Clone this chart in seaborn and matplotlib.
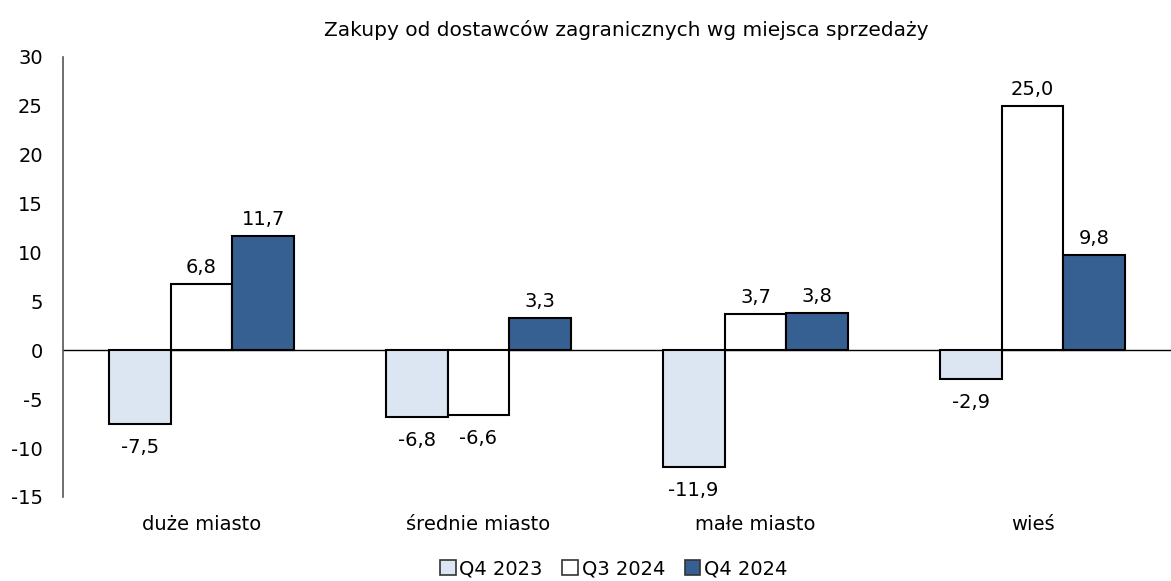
import matplotlib
matplotlib.use("Agg")
import matplotlib.pyplot as plt
import seaborn as sns
import pandas as pd

categories = ["duże miasto", "średnie miasto", "małe miasto", "wieś"]
series = ["Q4 2023", "Q3 2024", "Q4 2024"]
q4_2023 = [-7.5, -6.8, -11.9, -2.9]
q3_2024 = [6.8, -6.6, 3.7, 25.0]
q4_2024 = [11.7, 3.3, 3.8, 9.8]
yticks = [-15, -10, -5, 0, 5, 10, 15, 20, 25, 30]
title = "Zakupy od dostawców zagranicznych wg miejsca sprzedaży"

colors = ["#DCE6F2", "#FFFFFF", "#376092"]

rows = []
for s, vals in zip(series, [q4_2023, q3_2024, q4_2024]):
    for c, v in zip(categories, vals):
        rows.append({"cat": c, "series": s, "val": v})
df = pd.DataFrame(rows)

sns.set_theme(style="white")
plt.rcParams['font.family'] = ['DejaVu Sans']
plt.rcParams['text.color'] = 'black'
plt.rcParams['xtick.color'] = 'black'
plt.rcParams['ytick.color'] = 'black'

FS = 14

fig = plt.figure(figsize=(11.71, 5.81), dpi=100)
ax = fig.add_axes([63/1171, 1 - 497/581, (1171 - 63)/1171, (497 - 57)/581])

sns.barplot(data=df, x="cat", y="val", hue="series", order=categories,
            hue_order=series, palette=colors, saturation=1, edgecolor="black",
            linewidth=1.5, width=0.67, ax=ax, legend=True)

ax.set_ylim(-15, 30)
ax.set_xlim(-0.5, 3.5)
ax.set_yticks(yticks)
ax.set_yticklabels([str(t) for t in yticks], fontsize=FS)
ax.tick_params(axis="y", length=0, pad=14.5)
ax.set_xlabel("")
ax.set_ylabel("")
for side in ["top", "right", "bottom"]:
    ax.spines[side].set_visible(False)
ax.spines["left"].set_color("#555555")
ax.spines["left"].set_linewidth(1.2)
ax.axhline(0, color="black", linewidth=1, zorder=0.5)

ax.set_xticks(range(len(categories)))
ax.set_xticklabels(categories, fontsize=FS)
ax.tick_params(axis="x", length=0, pad=13)

for cont in ax.containers:
    for bar in cont:
        h = bar.get_height()
        x = bar.get_x() + bar.get_width() / 2
        txt = f"{h:.1f}".replace(".", ",")
        if h >= 0:
            ax.annotate(txt, (x, h), xytext=(0, 5), textcoords="offset points",
                        ha="center", va="bottom", fontsize=FS)
        else:
            ax.annotate(txt, (x, h), xytext=(0, -10), textcoords="offset points",
                        ha="center", va="top", fontsize=FS)

fig.suptitle(title, x=0.535, y=0.965, fontsize=14.5)

leg = ax.legend(loc="lower center", bbox_to_anchor=(0.497, -0.225), ncol=3,
                frameon=False, fontsize=FS, handlelength=0.8, handleheight=0.8,
                handletextpad=0.2, columnspacing=1.0)
for h in leg.legend_handles:
    h.set_edgecolor("#333333")
    h.set_linewidth(1.2)

fig.savefig("out.png", dpi=100)
